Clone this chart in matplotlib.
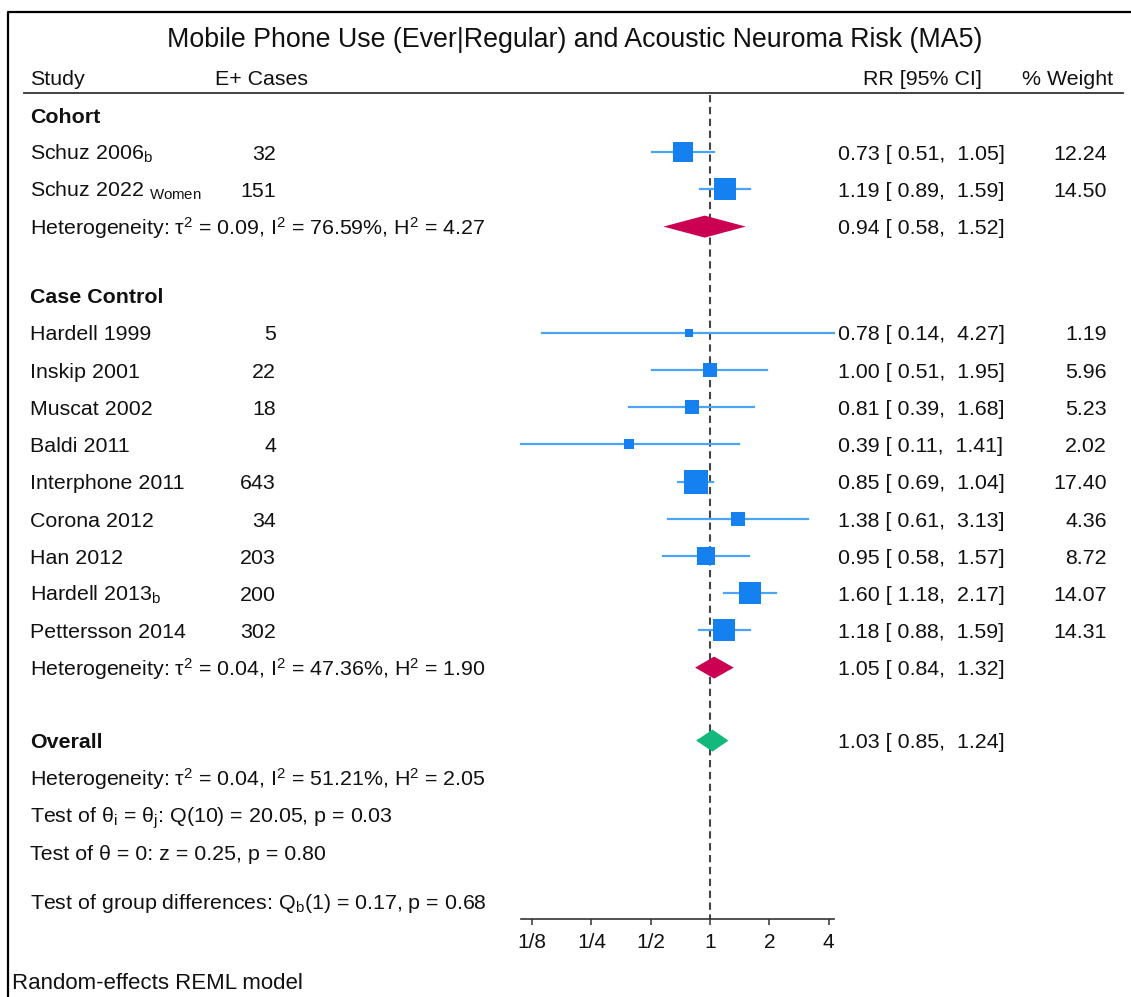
import numpy as np
import matplotlib
matplotlib.use('Agg')
import matplotlib.pyplot as plt
from matplotlib.ticker import NullLocator

plt.rcParams['font.family'] = ['Liberation Sans', 'DejaVu Sans']
plt.rcParams['mathtext.fontset'] = 'custom'
plt.rcParams['mathtext.rm'] = 'Liberation Sans'
plt.rcParams['mathtext.it'] = 'Liberation Sans:italic'
plt.rcParams['mathtext.bf'] = 'Liberation Sans:bold'

# study level data
studies = ['Schuz 2006$_{\\rm b}$', 'Schuz 2022 $_{\\rm Women}$',
           'Hardell 1999', 'Inskip 2001', 'Muscat 2002', 'Baldi 2011',
           'Interphone 2011', 'Corona 2012', 'Han 2012',
           'Hardell 2013$_{\\rm b}$', 'Pettersson 2014']
group = ['Cohort'] * 2 + ['Case Control'] * 9
cases = [32, 151, 5, 22, 18, 4, 643, 34, 203, 200, 302]
rr = [0.73, 1.19, 0.78, 1.00, 0.81, 0.39, 0.85, 1.38, 0.95, 1.60, 1.18]
lo = [0.51, 0.89, 0.14, 0.51, 0.39, 0.11, 0.69, 0.61, 0.58, 1.18, 0.88]
hi = [1.05, 1.59, 4.27, 1.95, 1.68, 1.41, 1.04, 3.13, 1.57, 2.17, 1.59]
weight = [12.24, 14.50, 1.19, 5.96, 5.23, 2.02, 17.40, 4.36, 8.72, 14.07, 14.31]

# pooled estimates
groups = ['Cohort', 'Case Control']
group_rr = [0.94, 1.05]
group_lo = [0.58, 0.84]
group_hi = [1.52, 1.32]
group_het = ['Heterogeneity: \u03c4$^2$ = 0.09, I$^2$ = 76.59%, H$^2$ = 4.27',
             'Heterogeneity: \u03c4$^2$ = 0.04, I$^2$ = 47.36%, H$^2$ = 1.90']
overall_rr, overall_lo, overall_hi = 1.03, 0.85, 1.24
overall_lines = ['Heterogeneity: \u03c4$^2$ = 0.04, I$^2$ = 51.21%, H$^2$ = 2.05',
                 'Test of \u03b8$_{\\rm i}$ = \u03b8$_{\\rm j}$: Q(10) = 20.05, p = 0.03',
                 'Test of \u03b8 = 0: z = 0.25, p = 0.80']
group_test = 'Test of group differences: Q$_{\\rm b}$(1) = 0.17, p = 0.68'

xticks = [1/8, 1/4, 1/2, 1, 2, 4]
xticklabels = ['1/8', '1/4', '1/2', '1', '2', '4']

title = 'Mobile Phone Use (Ever|Regular) and Acoustic Neuroma Risk (MA5)'

blue = '#1580f0'
ci_blue = '#4ca4f6'
red = '#cc0052'
green = '#12b87c'
fs = 15.4

W, H = 1131, 997
fig = plt.figure(figsize=(W / 100, H / 100), dpi=100)

# text layer in pixel units
tax = fig.add_axes([0, 0, 1, 1])
tax.set_xlim(0, W)
tax.set_ylim(H, 0)
tax.axis('off')

# forest layer, log2 scale, 1 at x=710 px, 59.3 px per doubling
ax = fig.add_axes([0, 0, 1, 1], facecolor='none')
ax.set_xscale('log', base=2)
x1, ppd = 710, 59.3
ax.set_xlim(2 ** (-x1 / ppd), 2 ** ((W - x1) / ppd))
ax.set_ylim(H, 0)


def txt(x, y, s, **kw):
    kw.setdefault('fontsize', fs)
    kw.setdefault('va', 'baseline')
    tax.text(x, y + 7.7, s, color='#111111', **kw)


def fmt_ci(e, l, h):
    return f'{e:.2f} [ {l:.2f},  {h:.2f}]'


# frame and header
tax.plot([8, 8, W + 5], [H + 5, 12, 12], color='black', lw=1.6, clip_on=False)
tax.text(575, 40, title, fontsize=19.3, ha='center', va='center', color='#111111')
txt(30, 77, 'Study')
txt(215, 77, 'E+ Cases')
txt(982, 77, 'RR [95% CI]', ha='right')
txt(1113, 77, '% Weight', ha='right')
tax.plot([24, 1123], [93, 93], color='#333333', lw=1.3)

step = 37.2
y = 115
for g, gname in enumerate(groups):
    if g > 0:
        y += 69
    txt(30, y, gname, fontweight='bold')
    idx = [i for i in range(len(studies)) if group[i] == gname]
    for i in idx:
        y += step
        txt(30, y, studies[i])
        txt(276, y, str(cases[i]), ha='right')
        txt(838, y, fmt_ci(rr[i], lo[i], hi[i]))
        txt(1107, y, f'{weight[i]:.2f}', ha='right')
        ax.plot([lo[i], hi[i]], [y, y], color=ci_blue, lw=1.6, zorder=2)
        side = 2.3 + 5.2 * np.sqrt(weight[i])
        ax.plot(rr[i], y, marker='s', ms=side * 0.72, color=blue, mew=0, zorder=3)
    y += step
    txt(30, y, group_het[g])
    txt(838, y, fmt_ci(group_rr[g], group_lo[g], group_hi[g]))
    ax.fill([group_lo[g], group_rr[g], group_hi[g], group_rr[g]],
            [y, y - 11, y, y + 11], color=red, lw=0, zorder=3)

y += 73
txt(30, y, 'Overall', fontweight='bold')
txt(838, y, fmt_ci(overall_rr, overall_lo, overall_hi))
ax.fill([overall_lo, overall_rr, overall_hi, overall_rr],
        [y, y - 11, y, y + 11], color=green, lw=0, zorder=3)
for line in overall_lines:
    y += step
    txt(30, y, line)
y += 49
txt(30, y, group_test)
axis_y = y + 18

txt(12, 981, 'Random-effects REML model', fontsize=16)

# null line and x axis
ax.plot([1, 1], [95, axis_y], color='#444444', lw=1.5, ls=(0, (3.5, 2.2)), zorder=1)
for s in ['top', 'left', 'right']:
    ax.spines[s].set_visible(False)
ax.spines['bottom'].set_position(('data', axis_y))
ax.spines['bottom'].set_bounds(min(lo), max(hi))
ax.spines['bottom'].set_color('#333333')
ax.spines['bottom'].set_linewidth(1.2)
ax.set_xticks(xticks, labels=xticklabels)
ax.xaxis.set_minor_locator(NullLocator())
ax.set_yticks([])
ax.tick_params(axis='x', direction='out', length=4, width=1.1, color='#333333',
               labelsize=15, labelcolor='#111111', pad=6)

fig.savefig('out.png', dpi=100)
